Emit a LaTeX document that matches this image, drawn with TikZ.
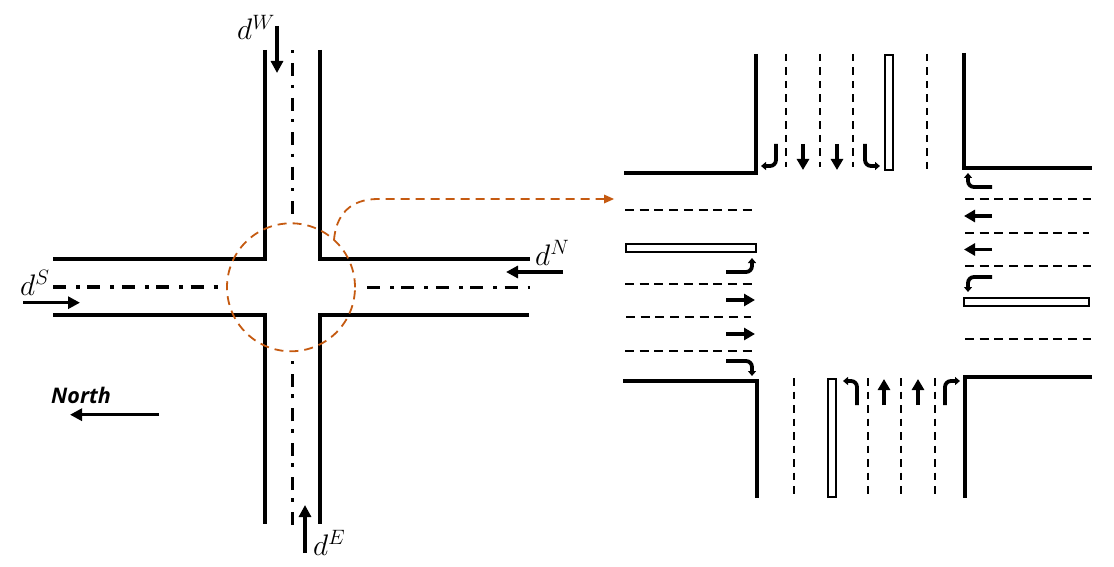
\RequirePackage{fix-cm}
\documentclass[tikz,border=0pt]{standalone}
\usepackage{fontspec}
\usepackage{graphicx}
\setmainfont{Open Sans}
\usetikzlibrary{arrows.meta}
\definecolor{rust}{HTML}{C55A11}
\newcommand{\demand}[1]{\scalebox{1.1}{$d^{#1}$}}
\tikzset{
  road/.style={line width=4pt,line join=miter},
  roadb/.style={line width=3.4pt,line join=miter},
  centre/.style={line width=3.4pt,dash pattern=on 13pt off 10pt on 4pt off 7.4pt},
  centrev/.style={line width=3.4pt,dash pattern=on 3pt off 10pt on 13pt off 8.4pt},
  lane/.style={line width=1.7pt,dash pattern=on 9pt off 5.7pt},
  lanev/.style={line width=1.5pt,dash pattern=on 7.5pt off 6pt},
  island/.style={draw,fill=white,line width=1.6pt},
  flow/.style={line width=3.4pt,-{Triangle[length=12pt,width=12pt]}},
  go/.style={line width=3.8pt,-{Triangle[length=11pt,width=12pt]}},
  turnarrow/.style={line width=3.8pt,rounded corners=6pt,-{Triangle[length=5pt,width=8pt]}},
  guide/.style={draw=rust,line width=1.8pt,dash pattern=on 9pt off 6pt},
  lbl/.style={anchor=base west,inner sep=0pt,font=\fontsize{27}{27}\selectfont},
}
\begin{document}
\begin{tikzpicture}[x=1pt,y=-1pt]
\useasboundingbox (0,0) rectangle (1114,567);
% left junction: kerbs
\draw[road] (264.5,50) -- (264.5,259) -- (53,259);
\draw[road] (320,50) -- (320,259) -- (530,259);
\draw[road] (53,315) -- (265,315) -- (265,524);
\draw[road] (529,315) -- (320,315) -- (320,524);
% centre lines
\draw[centre] (53,287) -- (218,287);
\draw[centre] (367,287.3) -- (530,287.3);
\draw[centrev] (292.5,50.5) -- (292.5,214);
\draw[centre] (292.5,524.5) -- (292.5,361);
% zoom circle and guide
\coordinate (guideStart) at (334,240);
\coordinate (guideEnd) at (614,199);
\node[guide,circle,minimum size=128pt,inner sep=0pt] (zoomc) at (291,287.3) {};
\draw[guide] (guideStart) .. controls (336,215) and (350,199) .. (378,199) -- (605,199);
\draw[draw=none,fill=rust] (guideEnd) -- (604,194.5) -- (604,203.5) -- cycle;
% demand arrows
\draw[flow] (277,26) -- (277,73);
\draw[flow] (563,272) -- (506,272);
\draw[flow] (23,302.7) -- (80,302.7);
\draw[flow] (305,553) -- (305,505);
\draw[flow] (159,414.7) -- (70,414.7);
% labels
\node[lbl] (dW) at (237,40) {\demand{W}};
\node[lbl] (dN) at (535,265) {\demand{N}};
\node[lbl] (dS) at (20,295) {\demand{S}};
\node[lbl] (dE) at (313,555) {\demand{E}};
\node[anchor=base west,inner sep=0pt,font=\fontsize{21.5}{21.5}\selectfont\bfseries\itshape] (north) at (51,403) {North};
% right junction: kerbs
\draw[roadb] (756,54) -- (756,173) -- (624,173);
\draw[roadb] (964,53) -- (964,168) -- (1092,168);
\draw[roadb] (623,381) -- (757,381) -- (757,498);
\draw[roadb] (1092,377) -- (965,377) -- (965,498);
% lane lines north
\foreach \x in {786,820,853}{\draw[lanev] (\x,54) -- (\x,167);}
\draw[lanev] (927,54) -- (927,170);
\draw[island] (885,55) rectangle (893,170);
% lane lines west
\foreach \y in {210,284,351}{\draw[lane] (625,\y) -- (757,\y);}
\draw[lane] (626,317) -- (751,317);
\draw[island] (626,244) rectangle (756,252);
% lane lines east
\foreach \y in {199,266,339}{\draw[lane] (965,\y) -- (1091,\y);}
\draw[lane] (965,233) -- (1089,233);
\draw[island] (964,298) rectangle (1089,306);
% lane lines south
\draw[lanev] (794,378) -- (794,498);
\foreach \x in {868,901,935}{\draw[lanev] (\x,378) -- (\x,498);}
\draw[island] (828,379) rectangle (836,497);
% lane arrows: top
\draw[go] (803,144) -- (803,170);
\draw[go] (837,144) -- (837,170);
\draw[turnarrow] (776,144) -- (776,166) -- (761,166);
\draw[turnarrow] (865,144) -- (865,166) -- (880,166);
% lane arrows: right
\draw[go] (992,216) -- (964,216);
\draw[go] (992,249.5) -- (964,249.5);
\draw[turnarrow] (992,187) -- (968,187) -- (968,173);
\draw[turnarrow] (992,277) -- (968,277) -- (968,292);
% lane arrows: left
\draw[go] (726,300) -- (755,300);
\draw[go] (726,334) -- (755,334);
\draw[turnarrow] (726,272) -- (752,272) -- (752,258);
\draw[turnarrow] (726,361) -- (752,361) -- (752,376);
% lane arrows: bottom
\draw[go] (884,405) -- (884,379);
\draw[go] (918,405) -- (918,379);
\draw[turnarrow] (857,405) -- (857,381) -- (843,381);
\draw[turnarrow] (945,405) -- (945,381) -- (960,381);
\end{tikzpicture}
\end{document}
